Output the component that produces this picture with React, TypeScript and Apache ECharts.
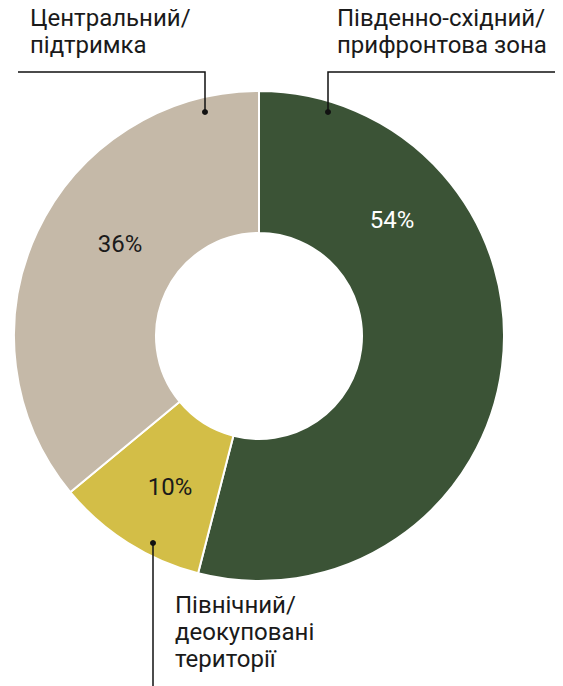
import React, { useEffect, useRef } from "react";
import * as echarts from "echarts";

const categories = [
  "Південно-східний/\nприфронтова зона",
  "Північний/\nдеокуповані\nтериторії",
  "Центральний/\nпідтримка",
];
const values = [54, 10, 36];
const colors = ["#3b5336", "#d3be47", "#c5b9a8"];
const labelColors = ["#ffffff", "#1a1a1a", "#1a1a1a"];
// label offsets from the pie centre, in px
const labelOffsets = [
  [133, -116],
  [-89, 151],
  [-139, -92],
];

const CX = 259;
const CY = 336;
const FONT = "Roboto, 'Noto Sans', sans-serif";

export default function App() {
  const ref = useRef<HTMLDivElement>(null);
  useEffect(() => {
    document.body.style.margin = "0";
    const chart = echarts.init(ref.current!, undefined, { renderer: "svg" });
    const lineStyle = { stroke: "#111", lineWidth: 1.5, fill: null };
    const textStyle = { fontFamily: FONT, fontSize: 24, lineHeight: 27, fill: "#1a1a1a" };
    chart.setOption({
      animation: false,
      backgroundColor: "#ffffff",
      series: [
        {
          type: "pie",
          center: [CX, CY],
          radius: [103, 245],
          startAngle: 90,
          clockwise: true,
          avoidLabelOverlap: false,
          itemStyle: { borderColor: "#ffffff", borderWidth: 2 },
          label: {
            show: true,
            position: "inside",
            formatter: "{c}%",
            fontFamily: FONT,
            fontSize: 24,
          },
          labelLine: { show: false },
          labelLayout: (p: any) => ({
            x: CX + labelOffsets[p.dataIndex][0],
            y: CY + labelOffsets[p.dataIndex][1],
            align: "center",
            verticalAlign: "middle",
          }),
          data: categories.map((name, i) => ({
            name,
            value: values[i],
            itemStyle: { color: colors[i] },
            label: { color: labelColors[i] },
          })),
        },
      ],
      graphic: [
        { type: "text", left: 30, top: 4, style: { ...textStyle, text: categories[2] } },
        { type: "text", left: 337, top: 4, style: { ...textStyle, text: categories[0] } },
        { type: "text", left: 175, top: 591, style: { ...textStyle, text: categories[1] } },
        {
          type: "polyline",
          shape: { points: [[18, 72], [205, 72], [205, 112]] },
          style: lineStyle,
          z: 10,
        },
        { type: "circle", shape: { cx: 205, cy: 112, r: 3 }, style: { fill: "#111" }, z: 10 },
        {
          type: "polyline",
          shape: { points: [[555, 72], [328, 72], [328, 112]] },
          style: lineStyle,
          z: 10,
        },
        { type: "circle", shape: { cx: 328, cy: 112, r: 3 }, style: { fill: "#111" }, z: 10 },
        {
          type: "line",
          shape: { x1: 153, y1: 543, x2: 153, y2: 686 },
          style: lineStyle,
          z: 10,
        },
        { type: "circle", shape: { cx: 153, cy: 543, r: 3 }, style: { fill: "#111" }, z: 10 },
      ],
    });
    return () => chart.dispose();
  }, []);
  return <div ref={ref} style={{ width: 563, height: 686 }} />;
}
